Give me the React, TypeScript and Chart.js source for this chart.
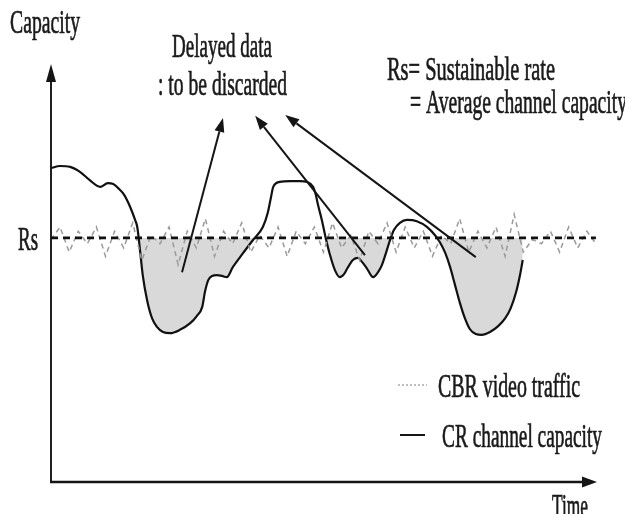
import React, { useEffect, useRef } from "react";
import { Chart, registerables } from "chart.js";

Chart.register(...registerables);

// Sustainable rate (average channel capacity), in capacity units (0..100)
const RS = 58.4;

// CR channel capacity curve: time (0..100) and capacity (0..100)
const capTime = [
  0, 1.65, 3.5, 5.3, 7.1, 9.0, 10.4, 11.4, 12.3, 13.4, 14.5, 15.4, 15.8, 16.3, 16.8, 17.6, 18.5, 19.4, 20.5, 21.8,
  23.6, 25.5, 26.7, 27.7, 28.2, 28.8, 29.5, 30.4, 31.3, 32.2, 33.3, 35.2, 37.0, 38.8, 39.7, 40.3, 40.7, 41.9, 43.8,
  45.6, 46.9, 48.0, 48.5, 48.9, 49.6, 50.4, 51.1, 52.0, 52.9, 53.7, 54.4, 55.3, 56.2, 57.0, 57.9, 59.0, 59.9, 60.6,
  61.4, 62.1, 62.8, 63.9, 65.2, 67.0, 68.9, 70.3, 71.2, 72.2, 73.1, 74.0, 74.9, 75.8, 76.7, 77.8, 78.9, 80.4, 81.9,
  83.2, 84.2, 85.2, 85.9, 86.4,
];
const capValue = [
  75.1, 75.6, 75.4, 74.2, 72.2, 70.6, 71.5, 71.3, 70.3, 68.7, 65.8, 62.7, 61.0, 55.5, 49.5, 43.5, 39.2, 37.1, 35.9, 35.6,
  36.4, 38.0, 39.7, 41.9, 45.5, 48.3, 49.3, 49.5, 49.3, 49.0, 51.4, 54.8, 57.9, 61.0, 64.4, 68.2, 70.6, 71.8, 72.0,
  72.0, 71.8, 70.6, 68.7, 66.3, 62.7, 57.9, 54.3, 50.7, 49.0, 49.8, 51.4, 53.1, 53.6, 52.6, 51.0, 49.0, 50.2, 51.9,
  55.0, 57.9, 60.3, 62.0, 62.7, 62.4, 61.0, 59.1, 57.4, 54.8, 51.4, 47.1, 42.8, 39.2, 36.6, 35.4, 35.2, 35.9, 37.3,
  39.2, 41.6, 45.5, 49.5, 53.1,
];

// CBR video traffic: jittery values around Rs, evenly spaced in time
const cbrValues = [
  58, 61, 55, 60, 57, 61, 54, 60, 56, 62, 53, 59, 57, 61, 52, 60, 56, 63, 54, 60, 57, 62, 55, 59, 56, 61, 54, 60, 57, 61,
  55, 62, 56, 59, 53, 60, 57, 62, 55, 61, 56, 60, 54, 59, 57, 63, 55, 60, 56, 61, 54, 64, 55, 58, 57, 60, 55, 61, 56, 60, 57,
];
const cbrEnd = 99.8;

// Rs reference line extent
const rsTime = [0, 99.8];

// Annotation arrows (tail time, tail capacity) -> (tip time, tip capacity)
const arrowTailT = [24.0, 57.5, 77.8];
const arrowTailV = [50.2, 54.3, 53.8];
const arrowTipT = [31.5, 37.4, 42.9];
const arrowTipV = [87.1, 87.6, 87.8];

// Text annotations: text, left, baseline, width (canvas px)
const texts: [string, number, number, number][] = [
  ["Capacity", 2, 25, 70],
  ["Delayed data", 164, 49, 100],
  [": to be discarded", 150, 87, 129],
  ["Rs= Sustainable rate", 379, 72, 168],
  ["= Average channel capacity", 402, 105, 217],
  ["Rs", 10, 242, 20],
  ["CBR video traffic", 430, 389, 142],
  ["CR channel capacity", 434, 439, 160],
  ["Time", 544, 509, 36],
];

const FONT = '33px "Liberation Serif", "Times New Roman", serif';
const CANVAS_W = 625;
const CANVAS_H = 506;

function arrow(ctx: CanvasRenderingContext2D, x1: number, y1: number, x2: number, y2: number, len: number, w: number) {
  const ang = Math.atan2(y2 - y1, x2 - x1);
  const bx = x2 - Math.cos(ang) * len;
  const by = y2 - Math.sin(ang) * len;
  ctx.beginPath();
  ctx.moveTo(x1, y1);
  ctx.lineTo(bx, by);
  ctx.stroke();
  const px = -Math.sin(ang) * (w / 2);
  const py = Math.cos(ang) * (w / 2);
  ctx.beginPath();
  ctx.moveTo(x2, y2);
  ctx.lineTo(bx + px, by + py);
  ctx.lineTo(bx - px, by - py);
  ctx.closePath();
  ctx.fill();
}

const overlay = {
  id: "overlay",
  afterDraw(chart: any) {
    const { ctx, scales } = chart;
    const xs = scales.x;
    const ys = scales.y;
    ctx.save();
    ctx.strokeStyle = "#151515";
    ctx.fillStyle = "#151515";
    // y axis
    const x0 = xs.getPixelForValue(0);
    const y0 = ys.getPixelForValue(0);
    ctx.lineWidth = 1.9;
    arrow(ctx, x0, y0 + 1, x0, ys.getPixelForValue(100), 18, 10);
    // x axis
    ctx.lineWidth = 2.6;
    arrow(ctx, x0 - 1, y0, xs.getPixelForValue(100), y0, 15, 11);
    // annotation arrows
    ctx.lineWidth = 2;
    for (let i = 0; i < arrowTailT.length; i++) {
      arrow(
        ctx,
        xs.getPixelForValue(arrowTailT[i]),
        ys.getPixelForValue(arrowTailV[i]),
        xs.getPixelForValue(arrowTipT[i]),
        ys.getPixelForValue(arrowTipV[i]),
        14,
        10
      );
    }
    // legend samples
    ctx.lineWidth = 1.5;
    ctx.strokeStyle = "#aaaaaa";
    ctx.setLineDash([2, 2]);
    ctx.beginPath();
    ctx.moveTo(390, 377);
    ctx.lineTo(419, 377);
    ctx.stroke();
    ctx.setLineDash([]);
    ctx.strokeStyle = "#151515";
    ctx.lineWidth = 2;
    ctx.beginPath();
    ctx.moveTo(392, 427);
    ctx.lineTo(417, 427);
    ctx.stroke();
    // texts
    ctx.font = FONT;
    ctx.textBaseline = "alphabetic";
    ctx.textAlign = "left";
    ctx.fillStyle = "#1a1a1a";
    ctx.strokeStyle = "#1a1a1a";
    ctx.lineWidth = 0.7;
    for (const [s, l, b, w] of texts) {
      const m = ctx.measureText(s).width;
      ctx.save();
      ctx.translate(l, b);
      ctx.scale(w / m, 1);
      ctx.fillText(s, 0, 0);
      ctx.strokeText(s, 0, 0);
      ctx.restore();
    }
    ctx.restore();
  },
};

export default function App() {
  const ref = useRef<HTMLCanvasElement | null>(null);
  useEffect(() => {
    if (!ref.current) return;
    const cbrData = cbrValues.map((v, i) => ({ x: (i * cbrEnd) / (cbrValues.length - 1), y: v }));
    const capData = capTime.map((t, i) => ({ x: t, y: capValue[i] }));
    const rsData = rsTime.map((t) => ({ x: t, y: RS }));
    const chart = new Chart(ref.current, {
      type: "line",
      data: {
        datasets: [
          {
            label: "Rs",
            data: rsData,
            borderColor: "#111",
            borderWidth: 2.6,
            borderDash: [7, 5],
            pointRadius: 0,
            fill: false,
          },
          {
            label: "CBR video traffic",
            data: cbrData,
            borderColor: "#9a9a9a",
            borderWidth: 1.5,
            borderDash: [5, 4],
            pointRadius: 0,
            tension: 0,
            fill: false,
          },
          {
            label: "CR channel capacity",
            data: capData,
            borderColor: "#111",
            borderWidth: 2.2,
            pointRadius: 0,
            cubicInterpolationMode: "monotone",
            fill: { target: { value: RS }, above: "rgba(0,0,0,0)", below: "#d9d9d9" },
          } as any,
        ],
      },
      options: {
        animation: false,
        responsive: false,
        devicePixelRatio: 1,
        layout: { padding: { left: 43, right: 36, top: 56, bottom: 32 } },
        scales: {
          x: { type: "linear", min: 0, max: 100, display: false },
          y: { type: "linear", min: 0, max: 100, display: false },
        },
        plugins: {
          legend: { display: false },
          tooltip: { enabled: false },
        },
        events: [],
      },
      plugins: [overlay],
    });
    return () => chart.destroy();
  }, []);
  return (
    <div style={{ width: CANVAS_W, height: CANVAS_H, position: "relative" }}>
      <canvas ref={ref} width={CANVAS_W} height={CANVAS_H} style={{ display: "block" }} />
    </div>
  );
}
